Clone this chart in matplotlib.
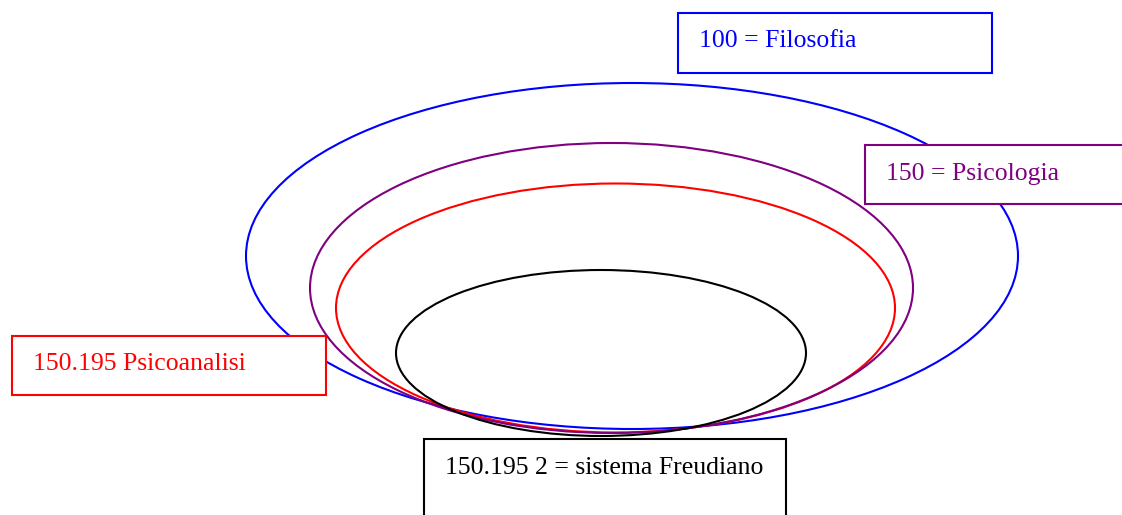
import matplotlib
matplotlib.use("Agg")
import matplotlib.pyplot as plt
from matplotlib.patches import Ellipse, Rectangle

W, H = 1122, 515

# Ellipses (center x, center y, width, height) in pixel space
ell_colors = ["blue", "red", "purple", "black"]
ell_cx = [632, 615.5, 611.5, 601]
ell_cy = [256, 308, 288, 353]
ell_w = [772, 559, 603, 410]
ell_h = [346, 249, 290, 166]

# Labels with boxes
labels = ["100 = Filosofia", "150 = Psicologia", "150.195 Psicoanalisi", "150.195 2 = sistema Freudiano"]
label_colors = ["blue", "purple", "red", "black"]
box_x = [678, 865, 12, 424]
box_y = [13, 145, 336, 439]
box_w = [314, 262, 314, 362]
box_h = [60, 59, 59, 90]
text_x = [699, 886, 33, 445]
text_y = [47, 180, 370, 474]

fig = plt.figure(figsize=(W / 100, H / 100), dpi=100)
ax = fig.add_axes([0, 0, 1, 1])
ax.set_xlim(0, W)
ax.set_ylim(H, 0)
ax.axis("off")

for c, cx, cy, w, h in zip(ell_colors, ell_cx, ell_cy, ell_w, ell_h):
    ax.add_patch(Ellipse((cx, cy), w, h, fill=False, edgecolor=c, lw=1.5, zorder=2))

for lab, c, bx, by, bw, bh, tx, ty in zip(labels, label_colors, box_x, box_y, box_w, box_h, text_x, text_y):
    ax.add_patch(Rectangle((bx, by), bw, bh, facecolor="white", edgecolor=c, lw=1.5, zorder=3))
    ax.text(tx, ty, lab, color=c, fontsize=18.5, family="Liberation Serif",
            ha="left", va="baseline", zorder=4)

fig.savefig("out.png", dpi=100)
